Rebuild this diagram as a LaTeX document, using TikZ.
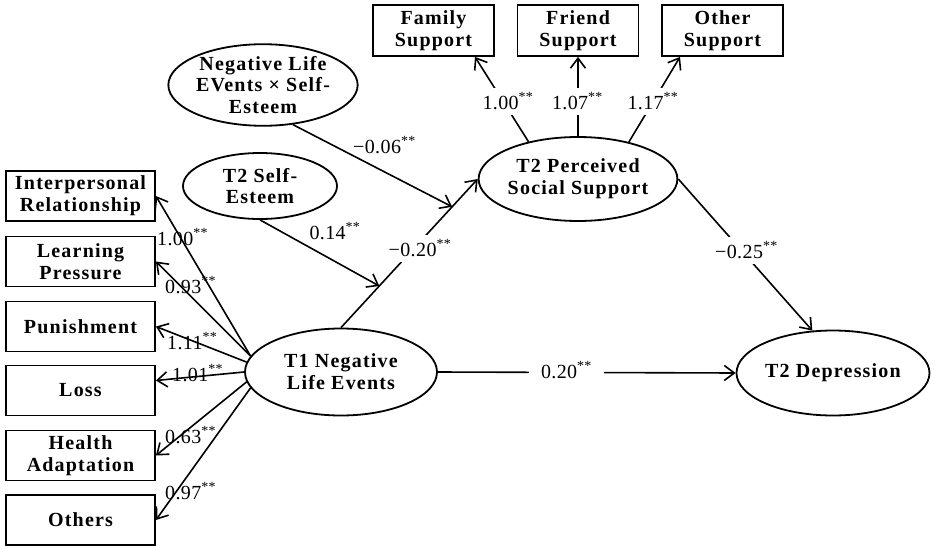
\documentclass[tikz,border=0pt]{standalone}
\usepackage{fontspec}
\setmainfont{Liberation Serif}
\newfontfamily\nodefont{Liberation Serif}[LetterSpace=6]
\newfontfamily\labfont{Liberation Serif}[LetterSpace=2]
\usetikzlibrary{arrows.meta,shapes.geometric}
\begin{document}
\begin{tikzpicture}[x=1pt,y=-1pt,
  every node/.style={inner sep=0pt},
  obs/.style={draw, line width=1.8pt, align=center, font=\nodefont\bfseries\fontsize{20}{21.7}\selectfont},
  lat/.style={draw, ellipse, line width=1.8pt, align=center, font=\nodefont\bfseries\fontsize{20}{21.7}\selectfont},
  leftbox/.style={obs, minimum width=149pt, minimum height=50pt},
  topbox/.style={obs, minimum width=121pt, minimum height=51pt},
  arr/.style={line width=1.6pt, -{Straight Barb[length=10pt,width=15pt]}},
  lab/.style={font=\labfont\fontsize{20}{22}\selectfont, anchor=base},
  llab/.style={font=\labfont\fontsize{20}{22}\selectfont, anchor=base west},
  wlab/.style={lab, fill=white, inner xsep=12pt, inner ysep=5pt},
]
\fill[white] (0,0) rectangle (935,549);
\useasboundingbox (0,0) rectangle (935,549);

% left indicator boxes
\node[leftbox] (ip)   at (80.5,196)   {Interpersonal\\Relationship};
\node[leftbox] (lp)   at (80.5,261.5) {Learning\\Pressure};
\node[leftbox] (pun)  at (80.5,326.5) {Punishment};
\node[leftbox] (loss) at (80.5,390.5) {Loss};
\node[leftbox] (ha)   at (80.5,455.5) {Health\\Adaptation};
\node[leftbox] (oth)  at (80.5,520)   {Others};

% top indicator boxes
\node[topbox] (fam)  at (433.5,30.5) {Family\\Support};
\node[topbox] (fri)  at (578,30.5)   {Friend\\Support};
\node[topbox] (oths) at (722.5,30.5) {Other\\Support};

% latent variables
\node[lat, minimum width=192pt, minimum height=87pt] (t1)  at (341,372) {T1 Negative\\Life Events};
\node[lat, minimum width=192pt, minimum height=84pt] (pss) at (578,179) {T2 Perceived\\Social Support};
\node[lat, minimum width=193pt, minimum height=85pt] (dep) at (833,373) {T2 Depression};
\node[lat, minimum width=184pt, minimum height=80pt] (nse) at (263,85)  {Negative Life\\EVents × Self-\\Esteem};
\node[lat, minimum width=154pt, minimum height=66pt] (tse) at (260,186) {T2 Self-\\Esteem};

% measurement paths (left)
\draw[arr] (t1.170) -- (ip.east);
\draw[arr] (t1.170) -- (lp.east);
\draw[arr] (t1.174) -- (pun.east);
\draw[arr] (t1.180) -- ([yshift=10pt]loss.east);
\draw[arr] (t1.186) -- (ha.east);
\draw[arr] (t1.190) -- (oth.east);

% measurement paths (top)
\draw[arr] (pss.143.5) -- ([xshift=41.5pt]fam.south);
\draw[arr] (pss.north) -- (fri.south);
\draw[arr] (pss.36.5) -- ([xshift=-42.5pt]oths.south);

% structural paths
\draw[arr] (t1.north) -- (pss.west) coordinate[pos=0.28] (m2) coordinate[pos=0.813] (m1);
\draw[arr] (nse.-53) -- (m1);
\draw[arr] (tse.south) -- (m2);
\draw[arr] (pss.east) -- (dep.116);
\draw[arr] (t1.east) -- (dep.west);

% labels (left)
\node[llab] (l1) at (157,245.5) {1.00\textsuperscript{**}};
\node[llab] (l2) at (165,293.5) {0.93\textsuperscript{**}};
\node[llab] (l3) at (167,349.5) {1.11\textsuperscript{**}};
\node[llab] (l4) at (172,381.5) {1.01\textsuperscript{**}};
\node[llab] (l5) at (165,443.5) {0.63\textsuperscript{**}};
\node[llab] (l6) at (165,499.5) {0.97\textsuperscript{**}};

% labels (top)
\node[wlab] (lt1) at (508,109.5)   {1.00\textsuperscript{**}};
\node[wlab] (lt2) at (577.5,109.5) {1.07\textsuperscript{**}};
\node[wlab] (lt3) at (653,109.5)   {1.17\textsuperscript{**}};

% labels (structural)
\node[lab]  (ls1) at (384.5,153.5) {−0.06\textsuperscript{**}};
\node[lab]  (ls2) at (335,239.5)   {0.14\textsuperscript{**}};
\node[wlab] (ls3) at (420,256.5)   {−0.20\textsuperscript{**}};
\node[wlab] (ls4) at (746.5,258.5) {−0.25\textsuperscript{**}};
\node[wlab] (ls5) at (566.5,378.5) {0.20\textsuperscript{**}};
\end{tikzpicture}
\end{document}
